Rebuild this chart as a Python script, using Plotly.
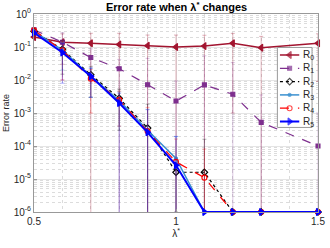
import plotly.graph_objects as go

x = [0.5, 0.6, 0.7, 0.8, 0.9, 1.0, 1.1, 1.2, 1.3, 1.5]

r0 = [0.20, 0.14, 0.13, 0.12, 0.11, 0.10, 0.107, 0.13, 0.095, 0.13]
r0_err = [0.04, 0.11, 0.13, 0.14, 0.12, 0.13, 0.12, 0.129, 0.115, 0.121]

r1 = [0.33, 0.14, 0.048, 0.022, 0.0072, 0.0023, 0.0071, 0.0037, 0.00052, 0.0001]
r1_err = [0.05, 0.13, 0.04, 0.02, 0.038, 0.007, 0.047, 0.03, 0.003, 0.0009]

r2 = [0.30, 0.085, 0.0145, 0.0028, 3.5e-4, 1.6e-5, 1.6e-5, 1e-6, 1e-6, 1e-6]
r2_err = [0.03, 0.07, 0.0115, 0.0025, 0.0015, 1.5e-5, 1.44e-4, 0, 0, 0]

r3 = [0.30, 0.08, 0.013, 0.0024, 3.0e-4, 4.2e-5, 1e-6, 1e-6, 1e-6, 1e-6]
r3_err = [0.03, 0.06, 0.01, 0.002, 0.001, 1.5e-4, 0, 0, 0, 0]

r4 = [0.32, 0.08, 0.011, 0.0025, 2.8e-4, 3.3e-5, 1.1e-5, 1e-6, 1e-6, 1e-6]
r4_err = [0.03, 0.07, 0.01, 0.0021, 0.0012, 1.3e-4, 7e-5, 0, 0, 0]

r5 = [0.27, 0.068, 0.013, 0.002, 2.6e-4, 2.6e-5, 1e-6, 1e-6, 1e-6, 1e-6]
r5_err = [0.03, 0.06, 0.01, 0.002, 0.001, 1.7e-4, 0, 0, 0, 0]

names = ["R<sub>0</sub>", "R<sub>1</sub>", "R<sub>2</sub>", "R<sub>3</sub>", "R<sub>4</sub>", "R<sub>5</sub>"]
y_tickvals = [1e-6, 1e-5, 1e-4, 1e-3, 1e-2, 1e-1, 1e0]
y_ticktext = ["10<sup>-6</sup>", "10<sup>-5</sup>", "10<sup>-4</sup>", "10<sup>-3</sup>",
              "10<sup>-2</sup>", "10<sup>-1</sup>", "10<sup>0</sup>"]
x_tickvals = [0.5, 1.0, 1.5]
x_ticktext = ["0.5", "1", "1.5"]

styles = [
    dict(color="#A2142F", err="rgba(162,20,47,0.32)", dash="solid", width=1.5,
         symbol="triangle-left", size=6),
    dict(color="#7E2F8E", err="rgba(126,47,142,0.28)", dash="dash", width=1.2,
         symbol="square", size=4),
    dict(color="#000000", err="rgba(0,0,0,0.3)", dash="dot", width=1.2,
         symbol="diamond-open", size=5),
    dict(color="#3A90D0", err="rgba(58,144,208,0.4)", dash="solid", width=1.5,
         symbol="circle", size=3),
    dict(color="#FF0000", err="rgba(255,0,0,0.3)", dash="dash", width=1.2,
         symbol="circle-open", size=5),
    dict(color="#0000FF", err="rgba(0,0,255,0.3)", dash="solid", width=2,
         symbol="triangle-right", size=6),
]

series = [(r0, r0_err), (r1, r1_err), (r2, r2_err), (r3, r3_err), (r4, r4_err), (r5, r5_err)]

fig = go.Figure()
for (vals, errs), nm, st in zip(series, names, styles):
    fig.add_trace(go.Scatter(
        x=x, y=vals, name=nm, mode="lines+markers", showlegend=False,
        line=dict(color=st["color"], dash=st["dash"], width=st["width"]),
        marker=dict(symbol=st["symbol"], size=st["size"], color=st["color"],
                    line=dict(color=st["color"], width=1.1)),
        error_y=dict(type="data", array=errs, visible=True, color=st["err"],
                     thickness=1, width=2),
        cliponaxis=False,
    ))

# compact MATLAB-style legend box, drawn on an overlay axis in plot-area fractions
leg_x0, leg_x1 = 0.857, 0.979
leg_top, leg_bot = 0.831, 0.427
item_y0, item_step = 0.793, 0.0672
samp_x = [0.866, 0.900, 0.934]
fig.add_trace(go.Scatter(
    x=[leg_x0, leg_x1, leg_x1, leg_x0, leg_x0],
    y=[leg_bot, leg_bot, leg_top, leg_top, leg_bot],
    xaxis="x2", yaxis="y2", mode="lines", fill="toself", fillcolor="white",
    line=dict(color="#999999", width=1), showlegend=False, hoverinfo="skip",
))
for i, (nm, st) in enumerate(zip(names, styles)):
    yy = item_y0 - i * item_step
    fig.add_trace(go.Scatter(
        x=samp_x, y=[yy] * 3, xaxis="x2", yaxis="y2", mode="lines+markers",
        showlegend=False, hoverinfo="skip",
        line=dict(color=st["color"], dash=st["dash"], width=st["width"]),
        marker=dict(symbol=st["symbol"], size=[0, st["size"], 0], color=st["color"],
                    line=dict(color=st["color"], width=1.1)),
        cliponaxis=False,
    ))
    fig.add_annotation(x=0.940, y=yy, xref="x2", yref="y2", text=nm,
                       showarrow=False, xanchor="left", yanchor="middle",
                       font=dict(size=10, color="#262626"))

minor_y = [m * 10.0 ** e for e in range(-6, 0) for m in range(2, 10)]

fig.update_layout(
    width=330, height=248,
    margin=dict(l=34, r=12, t=14, b=36, autoexpand=False),
    paper_bgcolor="white", plot_bgcolor="white",
    font=dict(family="Liberation Sans, Arial, sans-serif", size=10, color="#262626"),
    title=dict(text="<b>Error rate when λ<sup>*</sup> changes</b>", x=0.535, xanchor="center",
               y=0.985, yanchor="top", font=dict(size=11, color="#000000")),
    showlegend=False,
    xaxis=dict(
        range=[0.5, 1.5], tickmode="array", tickvals=x_tickvals, ticktext=x_ticktext,
        showline=True, linecolor="#999999", linewidth=1, mirror=True,
        ticks="inside", ticklen=3, tickcolor="#999999",
        showgrid=True, gridcolor="#e5e5e5", gridwidth=1,
        minor=dict(dtick=0.1, tick0=0.5, showgrid=True, gridcolor="#dcdcdc",
                   griddash="dot", ticks=""),
        zeroline=False, automargin=False,
        title=dict(text="λ<sup>*</sup>", standoff=2, font=dict(size=10)),
    ),
    yaxis=dict(
        type="log", range=[-6, 0], tickmode="array", tickvals=y_tickvals, ticktext=y_ticktext,
        showline=True, linecolor="#999999", linewidth=1, mirror=True,
        ticks="inside", ticklen=3, tickcolor="#999999",
        showgrid=True, gridcolor="#e5e5e5", gridwidth=1,
        minor=dict(tickmode="array", tickvals=minor_y, showgrid=True, gridcolor="#dcdcdc",
                   griddash="dot", ticks=""),
        zeroline=False, automargin=False,
        title=dict(text="Error rate", standoff=2, font=dict(size=9)),
    ),
    xaxis2=dict(overlaying="x", range=[0, 1], visible=False, fixedrange=True),
    yaxis2=dict(overlaying="y", range=[0, 1], visible=False, fixedrange=True),
)

fig.write_html("out.html", config={"displayModeBar": False},
               post_script="document.body.style.margin='0px';")
